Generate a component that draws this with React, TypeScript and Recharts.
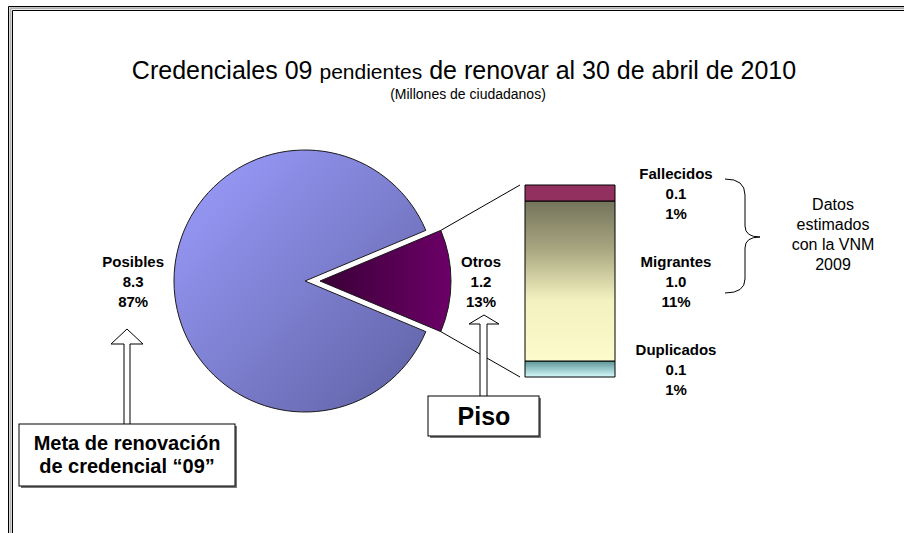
import React from 'react';
import { PieChart, Pie, Cell, BarChart, Bar, XAxis, YAxis, LabelList } from 'recharts';

// pie: Posibles vs Otros (millones)
const pieNames = ['Posibles', 'Otros'];
const pieValues = [8.3, 1.2];

// bar that breaks down "Otros", bottom to top
const barNames = ['Duplicados', 'Migrantes', 'Fallecidos'];
const barValues = [0.1, 1.0, 0.1];

const FONT = '"Liberation Sans", Arial, sans-serif';

const pieData = pieNames.map((name, i) => ({ name, value: pieValues[i] }));
const barRow: any = { name: 'Otros' };
barNames.forEach((n, i) => (barRow[n] = barValues[i]));
const barData = [barRow];
const total = pieValues.reduce((a, b) => a + b, 0);

// geometry
const PIE_CX = 305;
const PIE_CY = 281;
const PIE_R = 131;
const EXPLODE = 15;
const BAR_LEFT = 520;
const BAR_TOP = 185;
const BAR_W = 100;
const BAR_H = 192;
const BAR_PAD = 40; // room for the labels above/below the bar

const otrosShare = pieValues[1] / total;
const START = otrosShare * 180;

const measure = (txt: string, font: string) => {
  const ctx = document.createElement('canvas').getContext('2d');
  if (!ctx) return txt.length * 8;
  ctx.font = font;
  return ctx.measureText(txt).width;
};

const labelFont = `bold 15px ${FONT}`;

const ThreeLines = ({ x, y, lines }: { x: number; y: number; lines: string[] }) => (
  <text x={x} y={y} textAnchor="middle" fontFamily={FONT} fontSize={15} fontWeight="bold" fill="#000">
    {lines.map((l, i) => (
      <tspan key={i} x={x} y={y + (i - 1) * 20} dominantBaseline="central">
        {l}
      </tspan>
    ))}
  </text>
);

const pieLabel = (visibleIndex: number) => (props: any) => {
  const { cx, cy, outerRadius, midAngle, index, name, value, percent } = props;
  if (index !== visibleIndex) return null;
  const lines = [name, value.toFixed(1), `${Math.round(percent * 100)}%`];
  const w = Math.max(...lines.map((l) => measure(l, labelFont)));
  const rad = (midAngle * Math.PI) / 180;
  const dist = outerRadius + 10 + w / 2;
  return <ThreeLines x={cx + dist * Math.cos(rad)} y={cy - dist * Math.sin(rad)} lines={lines} />;
};

const barLabel = (name: string) => (props: any) => {
  const vb = props.viewBox || {};
  const x = props.x ?? vb.x;
  const y = props.y ?? vb.y;
  const width = props.width ?? vb.width;
  const height = props.height ?? vb.height;
  const v = Number(props.value);
  return (
    <ThreeLines
      x={x + width + 61}
      y={y + height / 2}
      lines={[name, v.toFixed(1), `${Math.round((v / total) * 100)}%`]}
    />
  );
};

const barFills: Record<string, string> = {
  Duplicados: 'url(#gDup)',
  Migrantes: 'url(#gMig)',
  Fallecidos: '#923060',
};

export default function App() {
  const a = (START * Math.PI) / 180;
  const ox = PIE_CX + EXPLODE + PIE_R * Math.cos(a);
  const oyTop = PIE_CY - PIE_R * Math.sin(a);
  const oyBot = PIE_CY + PIE_R * Math.sin(a);

  return (
    <div style={{ position: 'absolute', left: 0, top: 0, width: 904, height: 533, background: '#fff' }}>
      <div style={{ position: 'absolute', left: 0, top: 0 }}>
        <PieChart width={904} height={533} margin={{ top: 0, right: 0, bottom: 0, left: 0 }}>
          <defs>
            <linearGradient id="gPos" x1="0" y1="0" x2="1" y2="1">
              <stop offset="0%" stopColor="#9c9eff" />
              <stop offset="100%" stopColor="#5f61a3" />
            </linearGradient>
            <linearGradient id="gOtr" x1="0" y1="0.5" x2="1" y2="0.5">
              <stop offset="0%" stopColor="#3a0036" />
              <stop offset="100%" stopColor="#6c0068" />
            </linearGradient>
          </defs>
          <Pie
            data={pieData}
            dataKey="value"
            nameKey="name"
            cx={PIE_CX}
            cy={PIE_CY}
            outerRadius={PIE_R}
            startAngle={START}
            endAngle={START + 360}
            isAnimationActive={false}
            labelLine={false}
            label={pieLabel(0)}
          >
            <Cell fill="url(#gPos)" stroke="#1a1a1a" strokeWidth={1} />
            <Cell fill="none" stroke="none" />
          </Pie>
          <Pie
            data={pieData}
            dataKey="value"
            nameKey="name"
            cx={PIE_CX + EXPLODE}
            cy={PIE_CY}
            outerRadius={PIE_R}
            startAngle={START}
            endAngle={START + 360}
            isAnimationActive={false}
            labelLine={false}
            label={pieLabel(1)}
          >
            <Cell fill="none" stroke="none" />
            <Cell fill="url(#gOtr)" stroke="#1a1a1a" strokeWidth={1} />
          </Pie>
        </PieChart>
      </div>

      <div style={{ position: 'absolute', left: BAR_LEFT - 20, top: BAR_TOP - BAR_PAD }}>
        <BarChart
          width={BAR_W + 160}
          height={BAR_H + 2 * BAR_PAD}
          data={barData}
          margin={{ top: BAR_PAD, right: 140, bottom: BAR_PAD, left: 20 }}
          barCategoryGap={0}
        >
          <defs>
            <linearGradient id="gMig" x1="0" y1="0" x2="0" y2="1">
              <stop offset="0%" stopColor="#74745c" />
              <stop offset="30%" stopColor="#a8a680" />
              <stop offset="62%" stopColor="#f4f1c0" />
              <stop offset="100%" stopColor="#fdfacb" />
            </linearGradient>
            <linearGradient id="gDup" x1="0" y1="0" x2="0" y2="1">
              <stop offset="0%" stopColor="#5c9597" />
              <stop offset="100%" stopColor="#d6fafc" />
            </linearGradient>
          </defs>
          <XAxis dataKey="name" hide />
          <YAxis type="number" domain={[0, 'dataMax']} hide />
          {barNames.map((n) => (
            <Bar
              key={n}
              dataKey={n}
              stackId="otros"
              fill={barFills[n]}
              stroke="#000"
              strokeWidth={1}
              barSize={BAR_W}
              isAnimationActive={false}
            >
              <LabelList dataKey={n} content={barLabel(n)} />
            </Bar>
          ))}
        </BarChart>
      </div>

      <svg
        width={904}
        height={533}
        style={{ position: 'absolute', left: 0, top: 0, pointerEvents: 'none' }}
        fontFamily={FONT}
      >
        {/* frame */}
        <path d="M10.5 533 V8.2 H904" fill="none" stroke="#b0b0b0" strokeWidth={2} />
        <path d="M8.5 533 V6.5 H904" fill="none" stroke="#000" strokeWidth={1} />
        <path d="M12.5 533 V10.5 H904" fill="none" stroke="#000" strokeWidth={1} />

        {/* title */}
        <text x={464} y={79} textAnchor="middle" fontSize={25} fill="#000">
          Credenciales 09 <tspan fontSize={21}>pendientes</tspan> de renovar al 30 de abril de 2010
        </text>
        <text x={468} y={99} textAnchor="middle" fontSize={14} fill="#000">
          (Millones de ciudadanos)
        </text>

        {/* connector lines pie -> bar */}
        <line x1={ox} y1={oyTop} x2={BAR_LEFT} y2={BAR_TOP} stroke="#000" strokeWidth={1} />
        <line x1={ox} y1={oyBot} x2={BAR_LEFT} y2={BAR_TOP + BAR_H} stroke="#000" strokeWidth={1} />

        {/* brace */}
        <path
          d="M725 179 Q745 179 745 195 V226 Q745 237 760 237 Q745 237 745 248 V279 Q745 293 725 293"
          fill="none"
          stroke="#000"
          strokeWidth={1}
        />
        <text x={833} textAnchor="middle" fontSize={16} fill="#000">
          {['Datos', 'estimados', 'con la VNM', '2009'].map((l, i) => (
            <tspan key={i} x={833} y={210 + i * 20}>
              {l}
            </tspan>
          ))}
        </text>

        {/* arrow + box: Meta */}
        <path d="M124 424 V344 H111 L127 329 L143 344 H130 V424" fill="#fff" stroke="#000" strokeWidth={1} />
        <rect x={21} y={426} width={216} height={62} fill="#777" />
        <rect x={19} y={424} width={216} height={62} fill="#fff" stroke="#000" strokeWidth={1} />
        <text x={127} textAnchor="middle" fontSize={20} fontWeight="bold" fill="#000">
          <tspan x={127} y={450}>Meta de renovación</tspan>
          <tspan x={127} y={473}>de credencial “09”</tspan>
        </text>

        {/* arrow + box: Piso */}
        <path d="M480 396 V324 H469 L484 315 L499 324 H487 V396" fill="#fff" stroke="#000" strokeWidth={1} />
        <rect x={430} y={398} width={111} height={40} fill="#777" />
        <rect x={428} y={396} width={111} height={40} fill="#fff" stroke="#000" strokeWidth={1} />
        <text x={484} y={425} textAnchor="middle" fontSize={25} fontWeight="bold" fill="#000">
          Piso
        </text>
      </svg>
    </div>
  );
}
